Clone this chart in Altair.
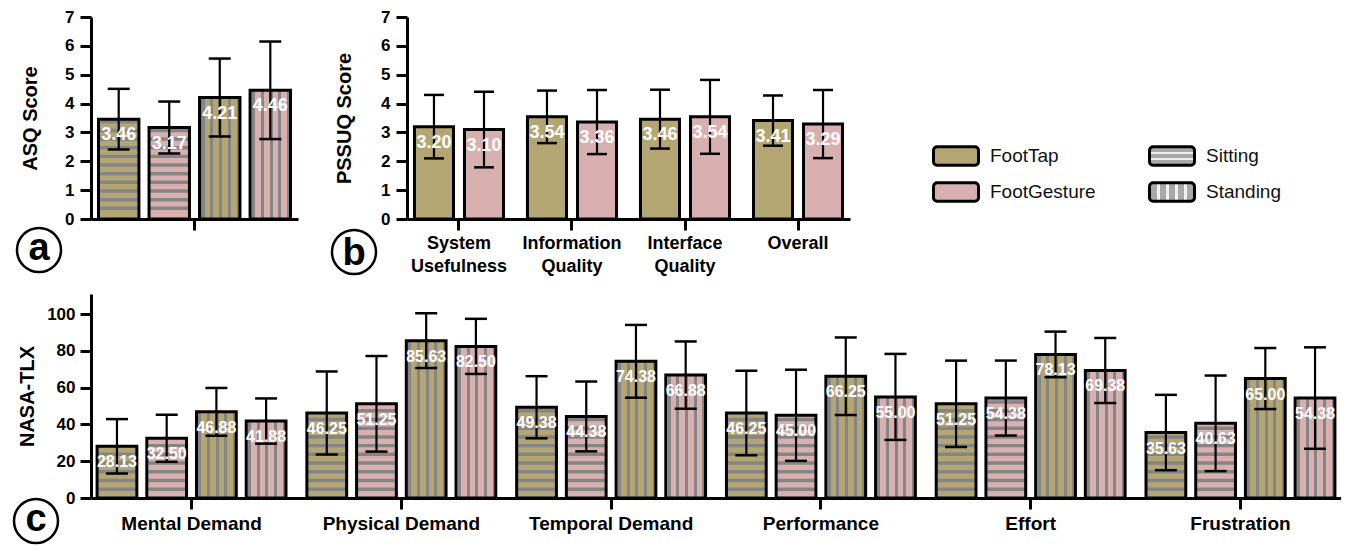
import altair as alt
import pandas as pd

# ---------------- data ----------------
devices = ["FootTap", "FootGesture"]
postures = ["Sitting", "Standing"]

asq_device = ["FootTap", "FootGesture", "FootTap", "FootGesture"]
asq_posture = ["Sitting", "Sitting", "Standing", "Standing"]
asq_mean = [3.46, 3.17, 4.21, 4.46]
asq_sd = [1.05, 0.90, 1.35, 1.69]

pssuq_cats = ["System Usefulness", "Information Quality", "Interface Quality", "Overall"]
pssuq_foottap_mean = [3.20, 3.54, 3.46, 3.41]
pssuq_foottap_sd = [1.10, 0.91, 1.02, 0.87]
pssuq_footgesture_mean = [3.10, 3.36, 3.54, 3.29]
pssuq_footgesture_sd = [1.31, 1.11, 1.28, 1.18]

tlx_cats = ["Mental Demand", "Physical Demand", "Temporal Demand",
            "Performance", "Effort", "Frustration"]
tlx_foottap_sitting_mean = [28.13, 46.25, 49.38, 46.25, 51.25, 35.63]
tlx_foottap_sitting_sd = [14.8, 22.6, 16.9, 23.0, 23.5, 20.5]
tlx_footgesture_sitting_mean = [32.50, 51.25, 44.38, 45.00, 54.38, 40.63]
tlx_footgesture_sitting_sd = [12.8, 26.0, 19.0, 24.8, 20.4, 26.0]
tlx_foottap_standing_mean = [46.88, 85.63, 74.38, 66.25, 78.13, 65.00]
tlx_foottap_standing_sd = [13.0, 14.9, 19.8, 21.1, 12.4, 16.6]
tlx_footgesture_standing_mean = [41.88, 82.50, 66.88, 55.00, 69.38, 54.38]
tlx_footgesture_standing_sd = [12.3, 15.0, 18.3, 23.4, 17.7, 27.6]

legend_labels = ["FootTap", "FootGesture", "Sitting", "Standing"]

# ---------------- styling ----------------
FONT = "Liberation Sans"
C_FT = "#B3A672"
C_FG = "#D9B0B0"
GRAY = "#858585"
CLEAR = "rgba(0,0,0,0)"


def stripe_gradient(n, first, period, w, color, base, vertical_stripes):
    stops = [{"offset": 0, "color": base}]
    for k in range(n):
        a = round(first + k * period - w / 2, 4)
        b = round(a + w, 4)
        stops += [{"offset": a, "color": base}, {"offset": a, "color": color},
                  {"offset": b, "color": color}, {"offset": b, "color": base}]
    stops.append({"offset": 1, "color": base})
    g = {"gradient": "linear", "stops": stops, "x1": 0, "y1": 0}
    if vertical_stripes:
        g.update({"x2": 1, "y2": 0})
    else:
        g.update({"x2": 0, "y2": 1})
    return g


VGRAD = stripe_gradient(5, 0.085, 0.218, 0.075, GRAY, CLEAR, True)
LEG_SIT = stripe_gradient(2, 0.36, 0.3, 0.1, "#ececec", "#a9a9a9", False)
LEG_STAND = stripe_gradient(4, 0.2, 0.2, 0.07, "#f2f2f2", "#a9a9a9", True)
RR = ("M-0.84,-0.41H0.84A0.16,0.16 0 0 1 1,-0.25V0.25A0.16,0.16 0 0 1 0.84,0.41"
      "H-0.84A0.16,0.16 0 0 1 -1,0.25V-0.25A0.16,0.16 0 0 1 -0.84,-0.41Z")


def make_rows(cats, device, posture, means, sds, slot):
    return [dict(cat=c, device=device, posture=posture, slot=slot,
                 mean=m, sd=s, lo=m - s, hi=m + s)
            for c, m, s in zip(cats, means, sds)]


asq_df = pd.DataFrame([
    dict(cat="ASQ", device=d, posture=p, slot=f"{d}-{p}", mean=m, sd=s, lo=m - s, hi=m + s)
    for d, p, m, s in zip(asq_device, asq_posture, asq_mean, asq_sd)
])
pssuq_df = pd.DataFrame(
    make_rows(pssuq_cats, "FootTap", "", pssuq_foottap_mean, pssuq_foottap_sd, "FootTap")
    + make_rows(pssuq_cats, "FootGesture", "", pssuq_footgesture_mean, pssuq_footgesture_sd, "FootGesture")
)
tlx_df = pd.DataFrame(
    make_rows(tlx_cats, "FootTap", "Sitting", tlx_foottap_sitting_mean, tlx_foottap_sitting_sd, "FootTap-Sitting")
    + make_rows(tlx_cats, "FootGesture", "Sitting", tlx_footgesture_sitting_mean, tlx_footgesture_sitting_sd, "FootGesture-Sitting")
    + make_rows(tlx_cats, "FootTap", "Standing", tlx_foottap_standing_mean, tlx_foottap_standing_sd, "FootTap-Standing")
    + make_rows(tlx_cats, "FootGesture", "Standing", tlx_footgesture_standing_mean, tlx_footgesture_standing_sd, "FootGesture-Standing")
)
slots4 = ["FootTap-Sitting", "FootGesture-Sitting", "FootTap-Standing", "FootGesture-Standing"]


def panel(df, cats, slots, ymax, yvals, ytitle, width, height, pi, po, opi,
          ytitle_pad, ylabel_pad, xaxis_kwargs, value_size, cap, hstripe,
          letter, lx, ly, ldy):
    n = len(cats)
    step = width / (n - pi + 2 * po)
    bandwidth = step * (1 - pi)
    base = alt.Chart(df).encode(
        x=alt.X("cat:N", sort=cats,
                axis=alt.Axis(title=None, labelAngle=0, **xaxis_kwargs),
                scale=alt.Scale(domain=cats, paddingInner=pi, paddingOuter=po)),
        xOffset=alt.XOffset("slot:N", sort=slots,
                            scale=alt.Scale(domain=slots, range=[0, bandwidth],
                                            paddingInner=opi, paddingOuter=0)),
    )
    yscale = alt.Scale(domain=[0, ymax], nice=False)
    yax = alt.Axis(values=yvals, title=ytitle, titlePadding=ytitle_pad, labelPadding=ylabel_pad)

    def Y(field):
        return alt.Y(field, scale=yscale, axis=yax, title=ytitle)

    def sized(c):
        return c.properties(width=width, height=height)

    bars = base.mark_bar().encode(
        y=Y("mean:Q"),
        fill=alt.Fill("device:N", scale=alt.Scale(domain=devices, range=[C_FT, C_FG]),
                      legend=None),
    )
    layers = [bars]
    if hstripe:
        start, stp, thick = hstripe
        hs = (base.transform_filter("datum.posture == 'Sitting'")
              .transform_calculate(s=f"sequence({start}, datum.mean, {stp})")
              .transform_flatten(["s"])
              .transform_calculate(s2=f"min(datum.s + {thick}, datum.mean)")
              .mark_bar(fill=GRAY)
              .encode(y=Y("s:Q"), y2=alt.Y2("s2")))
        vs = (base.transform_filter("datum.posture == 'Standing'")
              .mark_bar(fill=VGRAD)
              .encode(y=Y("mean:Q")))
        layers += [hs, vs]
    outline = base.mark_bar(fill="transparent", stroke="black", strokeWidth=3).encode(
        y=Y("mean:Q"))
    rule = base.mark_rule(color="black", strokeWidth=2.2).encode(
        y=Y("lo:Q"), y2=alt.Y2("hi"))
    caps = (base.transform_fold(["lo", "hi"], as_=["k", "v"])
            .mark_tick(color="black", size=cap, thickness=2.5, opacity=1)
            .encode(y=Y("v:Q")))
    text = base.mark_text(color="white", font=FONT, fontWeight="bold",
                          fontSize=value_size, baseline="middle", dy=16).encode(
        y=Y("mean:Q"), text=alt.Text("mean:Q", format=".2f"))
    ldf = pd.DataFrame({"t": [letter]})
    circ = alt.Chart(ldf).mark_point(shape="circle", size=44 * 44, filled=False,
                                     stroke="black", strokeWidth=2.5, opacity=1).encode(
        x=alt.value(lx), y=alt.value(ly))
    ltxt = alt.Chart(ldf).mark_text(font=FONT, fontWeight="bold", fontSize=38,
                                    baseline="alphabetic", dy=ldy, color="black").encode(
        x=alt.value(lx), y=alt.value(ly), text="t:N")
    layers += [outline, rule, caps, text, circ, ltxt]
    return alt.layer(*[sized(l) for l in layers])


pa = panel(asq_df, ["ASQ"], slots4, 7, list(range(8)), "ASQ Score", 207, 202,
           0, 0.039, 0.2, 24, 6, dict(labels=False), 18, 22, (0.31, 0.30, 0.12),
           "a", -52, 233, 10)
pb = panel(pssuq_df, pssuq_cats, devices, 7, list(range(8)), "PSSUQ Score", 443, 202,
           0.212, 0.066, 0.22, 26, 6,
           dict(labelExpr="split(datum.label, ' ')", labelLineHeight=23,
                labelFontSize=18, labelPadding=4),
           18, 20, None, "b", -53, 235, 13)
pc = panel(tlx_df, tlx_cats, slots4, 111, [0, 20, 40, 60, 80, 100], "NASA-TLX", 1250, 204,
           0.0995, 0.029, 0.2, 9, 5, dict(labelFontSize=19, labelPadding=5),
           16, 22, (3.8, 4.75, 1.9), "c", -55, 227, 10)

# ---------------- custom legend ----------------
leg_df = pd.DataFrame({"label": legend_labels, "col": [0, 0, 1, 1], "row": [0, 1, 0, 1]})
lx = alt.X("col:O", scale=alt.Scale(type="point", range=[77, 293], padding=0), axis=None)
ly = alt.Y("row:O", scale=alt.Scale(type="point", range=[139, 175], padding=0), axis=None)
lbase = alt.Chart(leg_df).encode(x=lx, y=ly)
sw_solid = (lbase.transform_filter("datum.label == 'FootTap' || datum.label == 'FootGesture'")
            .mark_point(shape=RR, size=2025, filled=True, stroke="black", strokeWidth=3, opacity=1)
            .encode(fill=alt.Fill("label:N", scale=alt.Scale(domain=devices, range=[C_FT, C_FG]),
                                  legend=None)))
sw_sit = (lbase.transform_filter("datum.label == 'Sitting'")
          .mark_point(shape=RR, size=2025, filled=True, fill=LEG_SIT, stroke="black",
                      strokeWidth=3, opacity=1))
sw_stand = (lbase.transform_filter("datum.label == 'Standing'")
            .mark_point(shape=RR, size=2025, filled=True, fill=LEG_STAND, stroke="black",
                        strokeWidth=3, opacity=1))
ltext = lbase.mark_text(align="left", baseline="middle", dx=34, font=FONT, fontSize=19,
                        color="#111111").encode(text="label:N")
legend_panel = alt.layer(sw_solid, sw_sit, sw_stand, ltext).properties(width=404, height=202)

top = alt.hconcat(pa, pb, legend_panel, spacing=29).resolve_scale(xOffset="independent")
chart = (alt.vconcat(top, pc, spacing=15)
         .resolve_scale(xOffset="independent")
         .properties(padding={"left": 1, "top": 0, "right": 0, "bottom": 0})
         .configure_view(stroke=None)
         .configure_axis(domainColor="black", domainWidth=3, tickColor="black", tickWidth=3,
                         tickSize=11, labelFont=FONT, labelFontSize=17, labelFontWeight="bold",
                         labelColor="black", titleFont=FONT, titleFontSize=20,
                         titleFontWeight="bold", titleColor="black", grid=False))

chart.save("out.html", embed_options={"renderer": "svg", "actions": False})
